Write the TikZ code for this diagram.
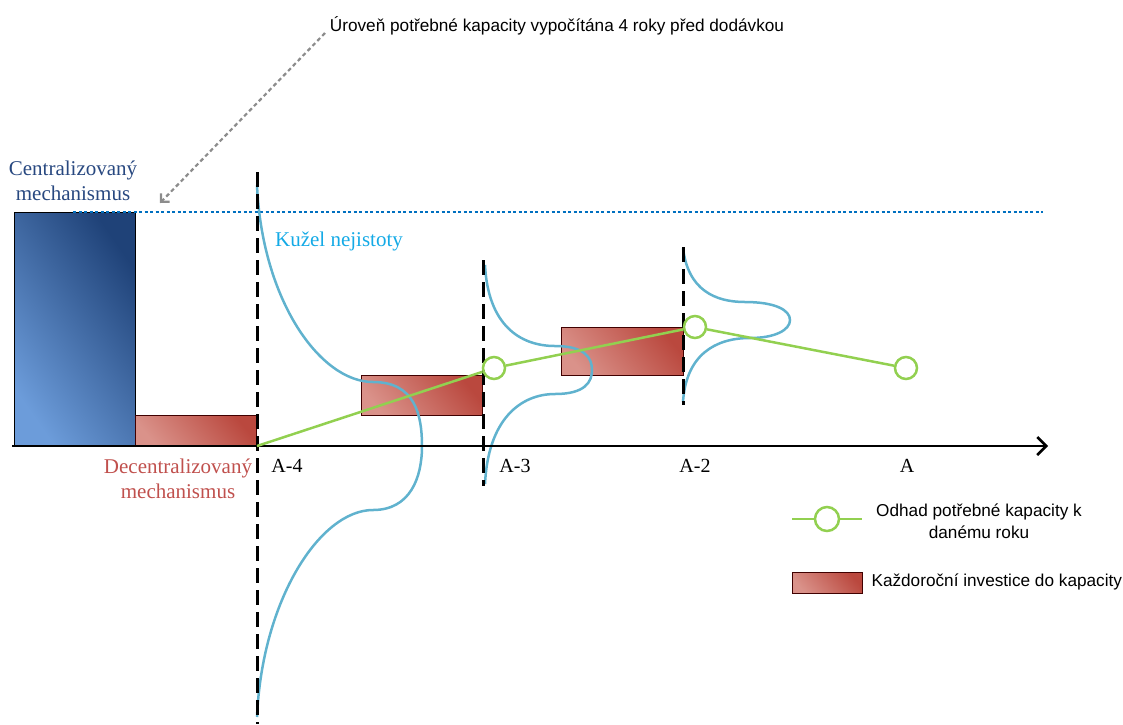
\documentclass[tikz,border=0pt]{standalone}
\usepackage{fontspec}
\setmainfont{Liberation Serif}
\newfontfamily\legendfont{Liberation Sans}
\definecolor{centdark}{RGB}{31,66,120}
\definecolor{centlight}{RGB}{108,156,218}
\definecolor{decdark}{RGB}{186,72,62}
\definecolor{declight}{RGB}{218,146,138}
\definecolor{levelblue}{RGB}{0,112,192}
\definecolor{conecol}{RGB}{96,178,206}
\definecolor{conetext}{RGB}{20,170,230}
\definecolor{estgreen}{RGB}{146,208,80}
\definecolor{labelblue}{RGB}{40,72,128}
\definecolor{labelred}{RGB}{192,80,77}
\usetikzlibrary{arrows.meta, positioning}

\begin{document}
\begin{tikzpicture}[
  x=1pt, y=-1pt,
  central/.style={draw=black, line width=1pt, bottom color=centlight, top color=centdark, shading angle=-55},
  invest/.style={draw=black!75!red, line width=1pt, bottom color=declight, top color=decdark, shading angle=-50},
  horizon/.style={draw=black, line width=3pt, dash pattern=on 15pt off 7pt},
  level/.style={draw=levelblue, line width=2.5pt, dash pattern=on 3pt off 2.5pt},
  cone/.style={draw=conecol, line width=2.5pt},
  estimate/.style={circle, draw=estgreen, line width=2.5pt, minimum size=22pt, inner sep=0pt},
  estline/.style={draw=estgreen, line width=2.5pt},
  axisline/.style={draw=black, line width=2.5pt, -{Straight Barb[length=9pt, width=18pt]}},
  year/.style={font=\fontsize{20}{22}\selectfont},
  mechlabel/.style={font=\fontsize{21}{25}\selectfont, align=center},
  legendtext/.style={font=\legendfont\fontsize{17.2}{22}\selectfont, align=center}
]
  \useasboundingbox (0,0) rectangle (1123,724);

  % bars
  \draw[central] (14,212) rectangle (135,446);
  \draw[invest] (135,415) rectangle (256,446);
  \draw[invest] (361,375) rectangle (482,415);
  \draw[invest] (561,327) rectangle (683,375);

  \draw[level] (73,212) -- (1043,212);

  % cones of uncertainty
  \draw[cone] (257,185) .. controls (262,300) and (320,382) .. (373,382)
    .. controls (415,382) and (422,415) .. (422,446)
    .. controls (422,478) and (410,510) .. (373,510)
    .. controls (320,510) and (262,600) .. (257,717);
  \draw[cone] (485,265) .. controls (488,325) and (520,346) .. (555,346)
    .. controls (585,346) and (592,358) .. (592,370)
    .. controls (592,382) and (585,394) .. (555,394)
    .. controls (520,394) and (488,420) .. (485,484);
  \draw[cone] (683,248) .. controls (688,290) and (715,302) .. (745,302)
    .. controls (775,302) and (790,310) .. (790,320)
    .. controls (790,330) and (775,338) .. (750,338)
    .. controls (715,338) and (686,355) .. (683,402);

  \foreach \xpos/\ytop/\ybot in {257/172/724, 483/260/486, 683/247/405}
    \draw[horizon] (\xpos,\ytop) -- (\xpos,\ybot);

  % time axis
  \coordinate (origin) at (12,446);
  \coordinate (tip) at (1048,446);
  \draw[axisline] (origin) -- (tip);
  \foreach \xpos/\lab/\nm in {287/A-4/a4, 515/A-3/a3, 695/A-2/a2, 907/A/a0}
    \node[year] (\nm) at (\xpos,466) {\lab};

  % capacity estimates
  \coordinate (start4) at (257,446);
  \node[estimate] (est3) at (494,368) {};
  \node[estimate] (est2) at (695,327) {};
  \node[estimate] (est0) at (906,368) {};
  \draw[estline] (start4) -- (est3) -- (est2) -- (est0);

  % labels
  \node[mechlabel, text=labelblue] (cent) at (73,181) {Centralizovaný\\mechanismus};
  \node[mechlabel, text=labelred] (decent) at (178,479) {Decentralizovaný\\mechanismus};
  \node[font=\fontsize{21}{23}\selectfont, text=conetext] (conelab) at (339,241) {Kužel nejistoty};
  \node[font=\legendfont\fontsize{17.2}{20}\selectfont] (note) at (557,26) {Úroveň potřebné kapacity vypočítána 4 roky před dodávkou};
  \coordinate (notestart) at (325,33);
  \coordinate (noteend) at (160,203);
  \draw[draw=black!45, line width=2.2pt, dash pattern=on 4pt off 3pt, -{Straight Barb[length=6pt, width=12pt]}] (notestart) -- (noteend);

  % legend
  \coordinate (lg1) at (792,519);
  \coordinate (lg2) at (862,519);
  \node[estimate, minimum size=24pt] (lgc) at (827,519) {};
  \draw[estline] (lg1) -- (lgc) -- (lg2);
  \node[legendtext] (lgtext1) at (979,521) {Odhad potřebné kapacity k\\danému roku};
  \draw[invest] (792,572) rectangle (862,593);
  \node[legendtext, anchor=west] (lgtext2) at (868,582) {Každoroční investice do kapacity};
\end{tikzpicture}
\end{document}
